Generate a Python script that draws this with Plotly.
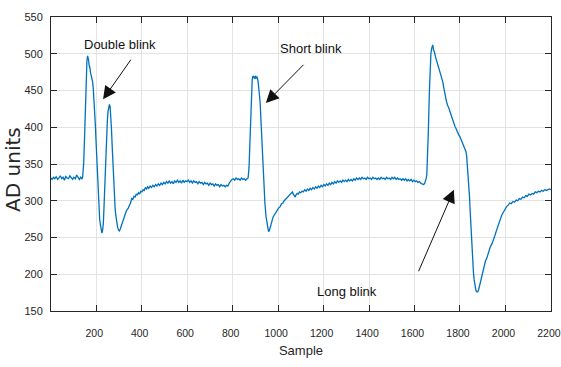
import plotly.graph_objects as go

# Sample index and AD value pairs
sample_idx = [
    1, 6, 12, 18, 24, 30, 36, 42, 48, 54, 60, 66, 72, 78, 84, 90, 96, 102, 108, 114, 120, 126, 132, 137,
    140, 145, 150, 155, 159, 162, 166, 169, 172, 175, 178, 181, 184, 187, 190, 193, 196, 199, 202, 205, 208,
    212, 215, 218, 221, 225, 228, 231, 234, 237, 240, 243, 246, 249, 252, 255, 258, 261, 264, 267, 270, 273,
    276, 280, 283, 286, 290, 294, 298, 302, 306, 311, 316, 321, 326, 331, 336, 341, 346, 351, 356, 361, 366,
    371, 376, 381, 386, 391, 396, 401, 406, 411, 416, 421, 426, 431, 437, 443, 449, 455, 461, 467, 473, 479,
    485, 491, 497, 503, 509, 515, 521, 527, 533, 539, 545, 551, 557, 563, 569, 575, 581, 587, 593, 599, 605,
    611, 617, 623, 629, 635, 641, 647, 653, 659, 665, 671, 677, 683, 689, 695, 701, 707, 713, 719, 725, 731,
    737, 743, 749, 755, 761, 767, 773, 779, 785, 791, 797, 803, 809, 815, 821, 827, 833, 839, 845, 851, 857,
    863, 868,
    872, 877, 882, 886, 889, 892, 895, 898, 901, 904, 908, 912, 916, 921, 926, 930, 934, 938, 942, 947, 952,
    955, 958, 962, 966, 970, 974, 978, 984, 990, 996, 1002, 1009, 1015, 1021, 1027, 1033, 1039, 1045, 1050,
    1055, 1059, 1063, 1067, 1071, 1075, 1079, 1084, 1089, 1094, 1099, 1105, 1111, 1117, 1123, 1129, 1135,
    1141, 1147, 1153, 1159, 1165, 1171, 1177, 1183, 1189, 1195, 1201, 1207, 1213, 1219, 1225, 1231, 1237,
    1243, 1249, 1255, 1261, 1267, 1273, 1279, 1285, 1291, 1297, 1303, 1309, 1315, 1321, 1327, 1333, 1339,
    1345, 1351, 1357, 1363, 1369, 1375, 1381, 1387, 1393, 1399, 1405, 1411, 1417, 1423, 1429, 1435, 1441,
    1447, 1453, 1459, 1465, 1471, 1477, 1483, 1489, 1495, 1501, 1507, 1513, 1519, 1525, 1531, 1537, 1543,
    1549, 1555, 1561, 1567, 1573, 1579, 1585, 1591, 1597, 1603, 1609, 1615, 1621, 1627, 1633, 1639, 1644,
    1648, 1651,
    1654, 1658, 1661, 1665, 1668, 1672, 1676, 1680, 1684, 1688, 1692, 1696, 1700, 1705, 1710, 1715, 1720,
    1724, 1728, 1732, 1736, 1740, 1745, 1750, 1756, 1761, 1767, 1772, 1778, 1783, 1789, 1794, 1800, 1805,
    1811, 1816, 1822, 1826, 1829, 1832, 1836, 1839, 1842, 1845, 1849, 1853, 1856, 1859, 1862, 1866, 1870,
    1874, 1878, 1882, 1886, 1890, 1895, 1899, 1903, 1907, 1912, 1918, 1925, 1933, 1940, 1947, 1954, 1961,
    1968, 1976, 1983, 1990, 1998, 2005, 2012, 2019, 2026, 2033, 2040, 2047, 2054, 2061, 2068, 2075, 2082,
    2089, 2096, 2103, 2110, 2117, 2124, 2131, 2138, 2145, 2152, 2159, 2166, 2173, 2180, 2187, 2194, 2200,
]

ad_units = [
    331, 329, 332, 330, 333, 329, 331, 334, 330, 332, 328, 333, 331, 330, 334, 331, 329, 332, 330, 335, 331, 329, 332, 330,
    332, 352, 400, 460, 490, 497, 492, 484, 481, 474, 470, 467, 462, 452, 440, 422, 404, 382, 360, 335, 312,
    288, 275, 268, 262, 256, 260, 268, 290, 320, 348, 372, 392, 410, 422, 428, 431, 428, 416, 398, 375, 352,
    330, 305, 290, 280, 270, 264, 260, 259, 262, 267, 270, 275, 280, 285, 288, 290, 294, 297, 303, 302, 306,
    305, 309, 308, 311, 309, 313, 312, 315, 314, 318, 316, 319, 317, 320, 318, 321, 319, 322, 320, 323, 321,
    324, 322, 325, 323, 326, 324, 327, 324, 326, 323, 327, 325, 328, 325, 327, 324, 328, 325, 327, 326, 328,
    325, 327, 324, 327, 325, 326, 323, 326, 324, 325, 322, 325, 323, 324, 321, 324, 322, 323, 320, 323, 321,
    322, 319, 322, 320, 321, 319, 321, 320, 324, 327, 329, 330, 328, 331, 329, 330, 328, 331, 329, 330, 328,
    330, 331,
    345, 400, 450, 465, 470, 467, 469, 466, 470, 467, 468, 462, 450, 433, 400, 370, 342, 318, 296, 278, 266,
    261, 258, 260, 265, 270, 274, 278, 281, 285, 287, 290, 292, 296, 297, 300, 302, 304, 306, 308,
    310, 312, 312, 309, 306, 305, 308, 310, 309, 312, 311, 313, 312, 315, 313, 316, 314,
    317, 315, 318, 316, 319, 317, 320, 318, 321, 319, 322, 320, 323, 321, 324, 322, 325,
    323, 326, 324, 327, 325, 327, 325, 328, 326, 328, 326, 329, 327, 329, 327, 330, 328,
    331, 329, 331, 329, 332, 330, 331, 329, 332, 330, 331, 329, 332, 330, 331, 329, 331,
    329, 332, 330, 331, 329, 332, 330, 331, 329, 332, 330, 332, 329, 331, 329, 330, 328,
    330, 328, 330, 327, 329, 327, 329, 326, 328, 326, 327, 325, 326, 324, 323, 322, 323,
    326, 330,
    335, 365, 396, 445, 482, 500, 508, 512, 505, 502, 496, 492, 488, 483, 478, 474, 469,
    462, 455, 447, 440, 436, 430, 427, 421, 416, 410, 406, 401, 398, 393, 390, 387, 383,
    378, 375, 371, 367, 362, 351, 335, 322, 305, 285, 258, 232, 215, 203, 193, 183, 178,
    176, 176, 179, 184, 190, 197, 202, 208, 211, 218, 222, 230, 237, 241, 246, 253, 260,
    267, 274, 280, 284, 289, 292, 294, 297, 296, 299, 298, 301, 300, 303, 302, 305, 304,
    307, 306, 309, 308, 310, 309, 312, 311, 313, 312, 314, 313, 315, 314, 315, 316, 315,
]

x_ticks = [200, 400, 600, 800, 1000, 1200, 1400, 1600, 1800, 2000, 2200]
y_ticks = [150, 200, 250, 300, 350, 400, 450, 500, 550]

label_texts = ["Double blink", "Short blink", "Long blink"]
label_pos = [(304, 512), (1144, 506.5), (1303, 176)]
arrow_heads = [(230, 438), (946, 433), (1773, 315)]
arrow_tails = [(357, 494), (1118, 487), (1615, 202)]

font_family = "Liberation Sans, Arial, sans-serif"
ink = "#262626"

fig = go.Figure()
fig.add_trace(go.Scatter(
    x=sample_idx, y=ad_units, mode="lines",
    line=dict(color="#0072BD", width=1.3),
    showlegend=False, hoverinfo="skip",
))

annotations = []
for t, (tx, ty) in zip(label_texts, label_pos):
    annotations.append(dict(x=tx, y=ty, xref="x", yref="y", text=t, showarrow=False,
                            font=dict(family=font_family, size=13, color="#111111")))
for (hx, hy), (tx, ty) in zip(arrow_heads, arrow_tails):
    annotations.append(dict(x=hx, y=hy, ax=tx, ay=ty, xref="x", yref="y", axref="x", ayref="y",
                            text="", showarrow=True, arrowhead=2, arrowsize=2.6, arrowwidth=1,
                            arrowcolor="#111111"))
# y-axis title placed as rotated text left of the tick labels
annotations.append(dict(x=-0.076, y=0.48, xref="paper", yref="paper", text="AD units",
                        textangle=-90, showarrow=False, xanchor="center", yanchor="middle",
                        font=dict(family="DejaVu Sans, Liberation Sans, sans-serif", size=20, color=ink)))

fig.update_layout(
    width=561, height=367,
    margin=dict(l=51, r=10, t=17, b=56, autoexpand=False),
    paper_bgcolor="white", plot_bgcolor="white",
    font=dict(family=font_family, size=11, color=ink),
    annotations=annotations,
    xaxis=dict(
        range=[1, 2200.3], tickvals=x_ticks, ticks="inside", ticklen=6, tickcolor=ink,
        showline=True, linecolor=ink, linewidth=1, mirror="ticks",
        showgrid=True, gridcolor="#e3e3e3", gridwidth=1, zeroline=False,
        ticklabelstandoff=12, ticklabeloverflow="allow", ticklabelshift=-2, automargin=False,
        tickfont=dict(size=10.5),
        title=dict(text="Sample", font=dict(size=13, family=font_family, color=ink), standoff=8),
    ),
    yaxis=dict(
        range=[150, 550], tickvals=y_ticks, ticks="inside", ticklen=6, tickcolor=ink,
        showline=True, linecolor=ink, linewidth=1, mirror="ticks",
        showgrid=True, gridcolor="#e3e3e3", gridwidth=1, zeroline=False,
        ticklabelstandoff=5, automargin=False,
    ),
)

fig.write_html("out.html")
